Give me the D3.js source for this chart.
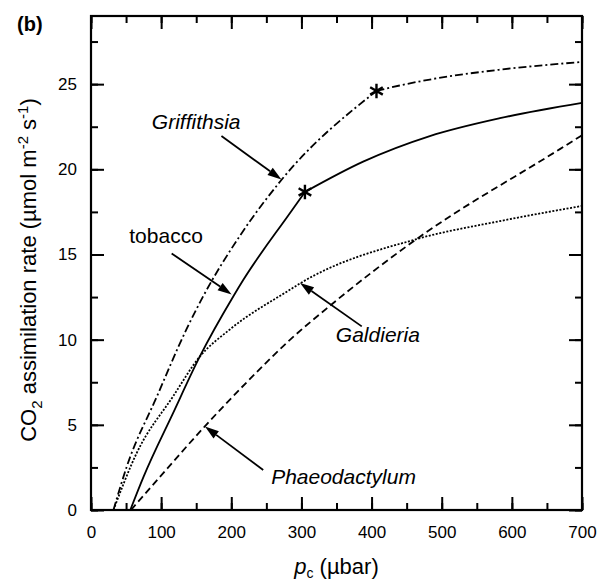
<!DOCTYPE html>
<html>
<head>
<meta charset="utf-8">
<style>
body { margin: 0; background: #fff; }
text { font-family: "Liberation Sans", Arial, sans-serif; fill: #000; }
.tick text { font-size: 17px; }
.curve { fill: none; stroke: #000; stroke-width: 1.8; }
</style>
</head>
<body>
<svg id="chart" width="599" height="582"></svg>
<script src="https://cdn.jsdelivr.net/npm/d3@7"></script>
<script>
// axis ticks
var xTicks = [0, 100, 200, 300, 400, 500, 600, 700];
var yTicks = [0, 5, 10, 15, 20, 25];

// curves (pc in µbar, A in µmol m-2 s-1)
var griffX = [32, 51, 94, 136, 160, 212, 272, 407, 440, 483, 583, 700];
var griffY = [0, 2.55, 6.67, 10.6, 12.55, 16.08, 19.4, 24.6, 24.92, 25.27, 25.85, 26.3];
var tobX = [56, 75, 117, 155, 203, 217, 284, 305, 388, 483, 583, 700];
var tobY = [0, 1.96, 5.69, 9.0, 12.55, 13.5, 17.45, 18.67, 20.45, 21.95, 23.0, 23.9];
var galdX = [32, 65, 117, 155, 198, 284, 298, 464, 583, 700];
var galdY = [0, 3.33, 6.67, 9.0, 10.6, 12.94, 13.3, 15.9, 16.96, 17.85];
var phaeoX = [57, 92, 162, 222, 284, 341, 464, 669, 700];
var phaeoY = [0, 1.65, 4.9, 7.5, 10.0, 12.0, 15.9, 21.2, 22.0];

// transition points marked with a star (index into arrays)
var griffStar = 7, tobStar = 7;

var svg = d3.select("#chart");
var margin = {top: 16, right: 17, bottom: 72, left: 91};
var w = 599 - margin.left - margin.right,
    h = 582 - margin.top - margin.bottom;
var g = svg.append("g").attr("transform", "translate(" + margin.left + "," + margin.top + ")");

var x = d3.scaleLinear().domain([0, 700]).range([0, w]);
var y = d3.scaleLinear().domain([0, 29]).range([h, 0]);

// axes, ticks inward on every side
function styleAxis(sel) {
  sel.select(".domain").remove();
  sel.selectAll(".tick line").attr("stroke", "#000").attr("stroke-width", 2);
}
var xMinor = d3.range(0, 701, 50);
var yMinor = d3.range(0, 29, 2.5);

g.append("g").attr("transform", "translate(0," + h + ")")
  .call(d3.axisTop(x).tickValues(xMinor).tickSize(7).tickFormat(""))
  .call(styleAxis);
g.append("g").attr("transform", "translate(0," + h + ")")
  .call(d3.axisTop(x).tickValues(xTicks).tickSize(13).tickFormat(""))
  .call(styleAxis);
g.append("g").attr("transform", "translate(0," + h + ")")
  .call(d3.axisBottom(x).tickValues(xTicks).tickSize(0).tickPadding(16))
  .call(styleAxis);
g.append("g")
  .call(d3.axisBottom(x).tickValues(xMinor).tickSize(7).tickFormat(""))
  .call(styleAxis);
g.append("g")
  .call(d3.axisBottom(x).tickValues(xTicks).tickSize(13).tickFormat(""))
  .call(styleAxis);

g.append("g")
  .call(d3.axisRight(y).tickValues(yMinor).tickSize(7).tickFormat(""))
  .call(styleAxis);
g.append("g")
  .call(d3.axisRight(y).tickValues(yTicks).tickSize(13).tickFormat(""))
  .call(styleAxis);
g.append("g")
  .call(d3.axisLeft(y).tickValues(yTicks).tickSize(0).tickPadding(14))
  .call(styleAxis);
g.append("g").attr("transform", "translate(" + w + ",0)")
  .call(d3.axisLeft(y).tickValues(yMinor).tickSize(7).tickFormat(""))
  .call(styleAxis);
g.append("g").attr("transform", "translate(" + w + ",0)")
  .call(d3.axisLeft(y).tickValues(yTicks).tickSize(13).tickFormat(""))
  .call(styleAxis);

g.append("rect").attr("width", w).attr("height", h)
  .attr("fill", "none").attr("stroke", "#000").attr("stroke-width", 2.2);

// curves
var line = d3.line().x(d => x(d[0])).y(d => y(d[1])).curve(d3.curveMonotoneX);
function pairs(xs, ys) { return xs.map((v, i) => [v, ys[i]]); }
function drawCurve(xs, ys, dash, star) {
  var pts = pairs(xs, ys);
  var parts = star == null ? [pts] : [pts.slice(0, star + 1), pts.slice(star)];
  parts.forEach(p => {
    g.append("path").attr("class", "curve").attr("d", line(p))
      .attr("stroke-dasharray", dash);
  });
}
drawCurve(griffX, griffY, "8,3,2,3", griffStar);
drawCurve(tobX, tobY, null, tobStar);
drawCurve(galdX, galdY, "2,1.6", null);
drawCurve(phaeoX, phaeoY, "7,4", null);

// stars
var star = d3.symbol().type(d3.symbolAsterisk).size(150);
[[griffX[griffStar], griffY[griffStar]], [tobX[tobStar], tobY[tobStar]]].forEach(p => {
  g.append("path").attr("d", star)
    .attr("transform", "translate(" + x(p[0]) + "," + y(p[1]) + ")")
    .attr("fill", "none").attr("stroke", "#000").attr("stroke-width", 2.4);
});

// annotations: label position and arrow (data units)
var notes = [
  {text: "Griffithsia", italic: true, lx: 150, ly: 22.35, ax: 186, ay: 21.96, tx: 271.5, ty: 19.4},
  {text: "tobacco", italic: false, lx: 107, ly: 15.7, ax: 115, ay: 15.06, tx: 200.5, ty: 12.65},
  {text: "Galdieria", italic: true, lx: 409, ly: 9.88, ax: 386, ay: 10.78, tx: 298, ty: 13.33},
  {text: "Phaeodactylum", italic: true, lx: 360, ly: 1.53, ax: 245.5, ay: 2.35, tx: 162.5, ty: 4.9}
];
notes.forEach(n => {
  g.append("text").attr("x", x(n.lx)).attr("y", y(n.ly))
    .attr("text-anchor", "middle").attr("font-size", 21)
    .attr("font-style", n.italic ? "italic" : "normal")
    .text(n.text);
  var x1 = x(n.ax), y1 = y(n.ay), x2 = x(n.tx), y2 = y(n.ty);
  var ang = Math.atan2(y2 - y1, x2 - x1);
  var hl = 14, hw = 4.5;
  var bx = x2 - hl * Math.cos(ang), by = y2 - hl * Math.sin(ang);
  g.append("line").attr("x1", x1).attr("y1", y1).attr("x2", bx).attr("y2", by)
    .attr("stroke", "#000").attr("stroke-width", 1.8);
  var px = -Math.sin(ang) * hw, py = Math.cos(ang) * hw;
  g.append("path")
    .attr("d", "M" + x2 + "," + y2 + "L" + (bx + px) + "," + (by + py) + "L" + (bx - px) + "," + (by - py) + "Z")
    .attr("fill", "#000");
});

// axis titles
var xt = svg.append("text").attr("x", margin.left + w / 2).attr("y", 574)
  .attr("text-anchor", "middle").attr("font-size", 22);
xt.append("tspan").attr("font-style", "italic").text("p");
xt.append("tspan").attr("font-size", 14).attr("dy", 4).text("c");
xt.append("tspan").attr("dy", -4).text(" (\u00b5bar)");

var yt = svg.append("text").attr("transform", "translate(36," + 270 + ") rotate(-90)")
  .attr("text-anchor", "middle").attr("font-size", 22);
yt.append("tspan").text("CO");
yt.append("tspan").attr("font-size", 15).attr("dy", 6).text("2");
yt.append("tspan").attr("dy", -6).text(" assimilation rate (\u00b5mol m");
yt.append("tspan").attr("font-size", 15).attr("dy", -8).text("-2");
yt.append("tspan").attr("dy", 8).text(" s");
yt.append("tspan").attr("font-size", 15).attr("dy", -8).text("-1");
yt.append("tspan").attr("dy", 8).text(")");

svg.append("text").attr("x", 17).attr("y", 31)
  .attr("font-size", 20).attr("font-weight", "bold").text("(b)");
</script>
</body>
</html>
